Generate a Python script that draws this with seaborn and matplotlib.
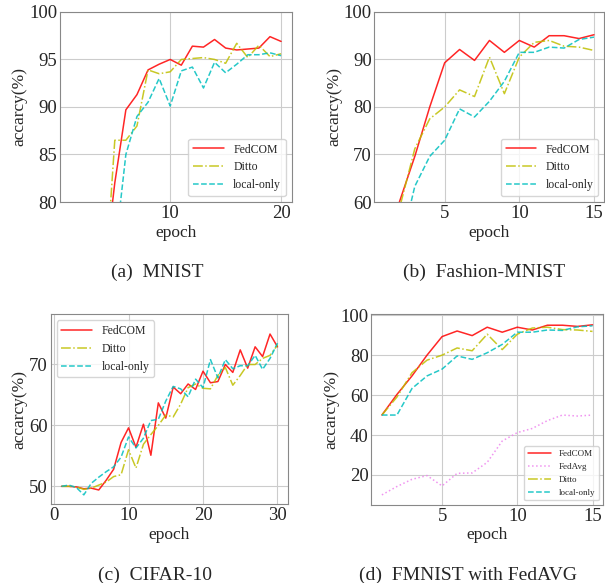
import matplotlib
matplotlib.use('Agg')
import matplotlib.pyplot as plt
import seaborn as sns

# ---- data ----
# (a) MNIST, epochs 1..20 (first epochs lie below the 80% axis floor)
mnist_epoch = list(range(1, 21))
mnist_fedcom = [40, 52, 62, 72, 82.0, 89.7, 91.3, 93.9, 94.5, 95.0, 94.4, 96.4, 96.3, 97.1, 96.2, 96.0, 96.1, 96.2, 97.4, 96.9]
mnist_ditto = [38, 50, 60, 69, 86.5, 86.5, 88.0, 93.9, 93.5, 93.7, 95.0, 95.1, 95.2, 95.0, 94.6, 96.7, 95.2, 96.5, 95.3, 95.6]
mnist_local = [35, 46, 56, 64, 74.6, 85.0, 89.0, 90.5, 93.0, 90.1, 93.8, 94.2, 92.0, 94.7, 93.6, 94.5, 95.5, 95.5, 95.7, 95.4]

# (b)/(d) Fashion-MNIST, epochs 1..15
fm_epoch = list(range(1, 16))
fm_fedcom = [50.0, 60.3, 69.6, 80.0, 89.3, 92.1, 89.8, 94.0, 91.5, 94.0, 92.6, 95.0, 95.0, 94.4, 95.2]
fm_ditto = [50.0, 59.0, 71.2, 77.5, 80.0, 83.6, 82.2, 90.5, 82.8, 90.5, 93.6, 94.0, 92.8, 92.6, 91.9]
fm_local = [50.0, 50.0, 63.3, 69.6, 73.0, 79.6, 77.9, 81.2, 85.4, 91.5, 91.5, 92.6, 92.4, 94.2, 94.7]
fm_fedavg = [10.0, 14.2, 17.8, 19.7, 14.5, 20.8, 21.0, 26.3, 37.0, 41.2, 43.3, 47.2, 50.0, 49.5, 50.0]

# (c) CIFAR-10, epochs 1..30
cifar_epoch = list(range(1, 31))
cifar_fedcom = [50.0, 50.0, 49.9, 49.6, 49.7, 49.4, 51.0, 52.8, 57.2, 59.6, 56.4, 60.2, 55.1, 63.7, 61.2,
                66.3, 65.2, 66.8, 65.9, 68.9, 67.0, 67.2, 70.0, 68.7, 72.4, 69.4, 72.9, 71.3, 75.0, 72.9]
cifar_ditto = [50.0, 50.0, 49.9, 49.5, 49.7, 50.2, 50.7, 51.6, 51.9, 56.0, 53.0, 56.9, 58.5, 60.0, 61.7,
               61.4, 63.5, 66.2, 66.8, 66.1, 66.0, 68.2, 69.5, 66.6, 68.2, 70.0, 70.0, 71.0, 71.5, 73.2]
cifar_local = [50.0, 50.2, 49.8, 48.6, 50.5, 51.5, 52.4, 53.2, 54.8, 58.1, 56.3, 57.9, 60.8, 61.0, 64.0,
               66.4, 66.0, 64.7, 67.6, 66.2, 70.8, 67.8, 70.8, 69.3, 69.8, 69.8, 71.5, 69.2, 71.0, 73.5]

captions = ['(a)  MNIST', '(b)  Fashion-MNIST', '(c)  CIFAR-10', '(d)  FMNIST with FedAVG']

sns.set_style('whitegrid')
plt.rcParams['font.family'] = ['Liberation Serif', 'DejaVu Serif']
plt.rcParams['axes.edgecolor'] = '#888888'
plt.rcParams['grid.color'] = '#cccccc'

fig = plt.figure(figsize=(6.05, 5.83), dpi=100)
ax_a = fig.add_axes([0.099, 0.6535, 0.383, 0.326])
ax_b = fig.add_axes([0.619, 0.6535, 0.380, 0.326])
ax_c = fig.add_axes([0.0838, 0.135, 0.3927, 0.326])
ax_d = fig.add_axes([0.6138, 0.134, 0.383, 0.327])


def draw(ax, x, series, leg_loc, leg_size):
    # series: list of (values, label, color, linestyle)
    for y, lab, col, ls in series:
        sns.lineplot(x=x, y=y, ax=ax, color=col, linestyle=ls, label=lab, linewidth=1.1, alpha=0.85)
    ax.set_xlabel('epoch', fontsize=12.5, labelpad=2)
    ax.set_ylabel('accarcy(%)', fontsize=12.5, labelpad=1)
    ax.tick_params(labelsize=13.5, length=0, pad=2)
    ax.legend(loc=leg_loc, fontsize=leg_size, edgecolor='#cccccc', handlelength=2.6)


draw(ax_a, mnist_epoch, [(mnist_fedcom, 'FedCOM', 'red', '-'),
                         (mnist_ditto, 'Ditto', 'y', '-.'),
                         (mnist_local, 'local-only', 'c', '--')], 'lower right', 8.5)
ax_a.set_ylim(80, 100)
ax_a.set_yticks([80, 85, 90, 95, 100])
ax_a.set_xticks([10, 20])

draw(ax_b, fm_epoch, [(fm_fedcom, 'FedCOM', 'red', '-'),
                      (fm_ditto, 'Ditto', 'y', '-.'),
                      (fm_local, 'local-only', 'c', '--')], 'lower right', 8.5)
ax_b.set_ylim(60, 100)
ax_b.set_yticks([60, 70, 80, 90, 100])
ax_b.set_xticks([5, 10, 15])

draw(ax_c, cifar_epoch, [(cifar_fedcom, 'FedCOM', 'red', '-'),
                         (cifar_ditto, 'Ditto', 'y', '-.'),
                         (cifar_local, 'local-only', 'c', '--')], 'upper left', 8.5)
ax_c.set_ylim(47.05, 78.25)
ax_c.set_yticks([50, 60, 70])
ax_c.set_xticks([0, 10, 20, 30])

draw(ax_d, fm_epoch, [(fm_fedcom, 'FedCOM', 'red', '-'),
                      (fm_fedavg, 'FedAvg', 'violet', ':'),
                      (fm_ditto, 'Ditto', 'y', '-.'),
                      (fm_local, 'local-only', 'c', '--')], 'lower right', 6.5)
ax_d.set_ylim(5, 100.5)
ax_d.set_yticks([20, 40, 60, 80, 100])
ax_d.set_xticks([5, 10, 15])

# sub-figure captions
fig.text(157 / 605, 1 - 272 / 583, captions[0], ha='center', va='center', fontsize=14)
fig.text(484 / 605, 1 - 272 / 583, captions[1], ha='center', va='center', fontsize=14)
fig.text(155 / 605, 1 - 575 / 583, captions[2], ha='center', va='center', fontsize=14)
fig.text(468 / 605, 1 - 575 / 583, captions[3], ha='center', va='center', fontsize=14)

fig.savefig('out.png', dpi=100)
